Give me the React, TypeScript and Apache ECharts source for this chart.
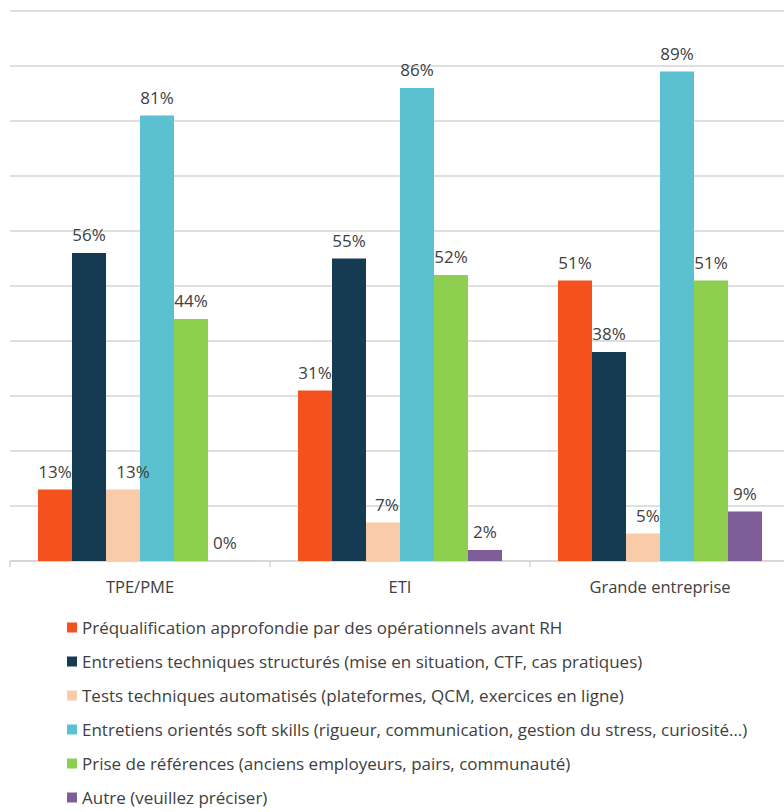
import React, { useEffect, useRef } from "react";
import * as echarts from "echarts";

const categories = ["TPE/PME", "ETI", "Grande entreprise"];
const seriesNames = [
  "Préqualification approfondie par des opérationnels avant RH",
  "Entretiens techniques structurés (mise en situation, CTF, cas pratiques)",
  "Tests techniques automatisés (plateformes, QCM, exercices en ligne)",
  "Entretiens orientés soft skills (rigueur, communication, gestion du stress, curiosité…)",
  "Prise de références (anciens employeurs, pairs, communauté)",
  "Autre (veuillez préciser)",
];
const prequalification = [13, 31, 51];
const entretiensTech = [56, 55, 38];
const testsAuto = [13, 7, 5];
const softSkills = [81, 86, 89];
const references = [44, 52, 51];
const autre = [0, 2, 9];

const seriesValues = [prequalification, entretiensTech, testsAuto, softSkills, references, autre];
const colors = ["#F4511E", "#143B52", "#F9CBA9", "#5BC1D1", "#8FCF4F", "#7E5D98"];
// label nudges (series index -> category index -> [dx, dy])
const labelOffsets: Record<string, number[]> = { "2-0": [10, 0], "2-1": [4, 0], "2-2": [5, 0] };

const FONT = "'Open Sans', sans-serif";

export default function App() {
  const ref = useRef<HTMLDivElement>(null);
  useEffect(() => {
    if (!ref.current) return;
    const chart = echarts.init(ref.current, undefined, { renderer: "svg" });
    chart.setOption({
      animation: false,
      textStyle: { fontFamily: FONT },
      grid: { left: 10, right: 0, top: 11, bottom: 251, containLabel: false },
      legend: {
        orient: "vertical",
        left: 67,
        top: 617,
        height: 200,
        padding: 0,
        itemWidth: 10,
        itemHeight: 10,
        itemGap: 13,
        icon: "rect",
        data: seriesNames,
        textStyle: { fontFamily: FONT, fontSize: 17, color: "#404040", lineHeight: 21 },
      },
      xAxis: {
        type: "category",
        data: categories,
        axisLine: { lineStyle: { color: "#d4d4d4", width: 1.5 } },
        axisTick: { show: true, length: 6, lineStyle: { color: "#d4d4d4", width: 1.5 } },
        axisLabel: { fontFamily: FONT, fontSize: 16.5, color: "#404040", margin: 17 },
      },
      yAxis: {
        type: "value",
        min: 0,
        max: 100,
        interval: 10,
        axisLabel: { show: false },
        axisLine: { show: false },
        axisTick: { show: false },
        splitLine: { lineStyle: { color: "#d4d4d4", width: 1.5 } },
      },
      series: seriesNames.map((name, si) => ({
        name,
        type: "bar",
        barWidth: 34,
        barGap: "0%",
        itemStyle: { color: colors[si] },
        label: {
          show: true,
          position: "top",
          distance: 10,
          formatter: "{c}%",
          fontFamily: FONT,
          fontSize: 17,
          color: "#404040",
        },
        data: seriesValues[si].map((v, ci) => {
          const off = labelOffsets[`${si}-${ci}`];
          return off ? { value: v, label: { offset: off } } : v;
        }),
      })),
    });
    return () => chart.dispose();
  }, []);
  return (
    <div style={{ position: "absolute", left: 0, top: 0, width: 784, height: 812, overflow: "hidden", background: "#fff" }}>
      <div ref={ref} style={{ width: 790, height: 812 }} />
    </div>
  );
}
